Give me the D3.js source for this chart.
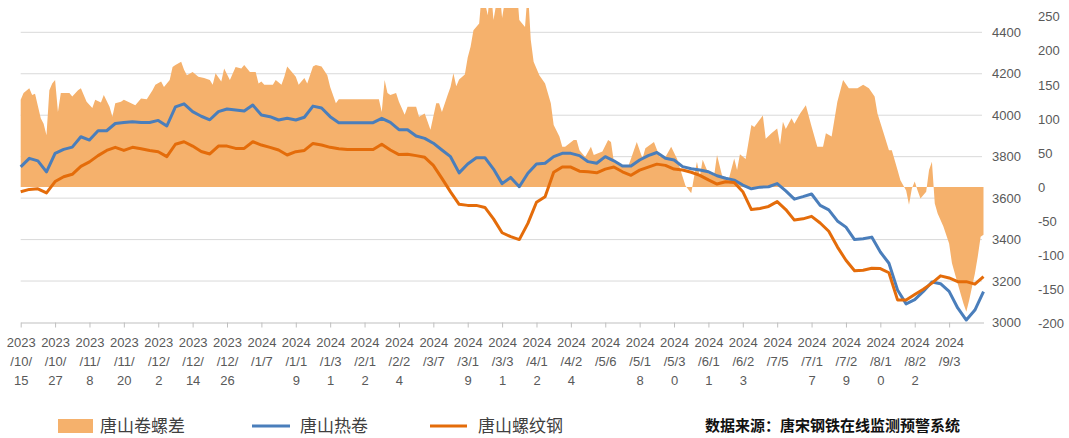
<!DOCTYPE html>
<html>
<head>
<meta charset="utf-8">
<script src="https://cdn.jsdelivr.net/npm/d3@7"></script>
<style>
  body { margin: 0; background: #fff; }
  svg { display: block; font-family: "Liberation Sans", Arial, sans-serif; }
</style>
</head>
<body>
<svg id="chart" width="1069" height="438"></svg>
<script>
// tick labels on the date axis (one every 12 days)
const tickLabels = [
  "2023/10/15", "2023/10/27", "2023/11/8", "2023/11/20", "2023/12/2", "2023/12/14", "2023/12/26",
  "2024/1/7", "2024/1/19", "2024/1/31", "2024/2/12", "2024/2/24", "2024/3/7", "2024/3/19",
  "2024/3/31", "2024/4/12", "2024/4/24", "2024/5/6", "2024/5/18", "2024/5/30", "2024/6/11",
  "2024/6/23", "2024/7/5", "2024/7/17", "2024/7/29", "2024/8/10", "2024/8/22", "2024/9/3"
];

// prices read every 3 days from 2023/10/15 to 2024/9/15
const hotCoil = [
  3751, 3792, 3780, 3727, 3816, 3835, 3846, 3896, 3880, 3925,
  3925, 3960, 3965, 3969, 3965, 3965, 3975, 3948, 4040, 4055,
  4017, 3995, 3978, 4017, 4030, 4025, 4020, 4049, 4001, 3993,
  3977, 3985, 3977, 3990, 4044, 4035, 3993, 3964, 3964, 3964,
  3964, 3964, 3985, 3965, 3930, 3930, 3900, 3888, 3865, 3832,
  3800, 3722, 3765, 3795, 3795, 3740, 3670, 3700, 3655, 3720,
  3765, 3768, 3800, 3816, 3816, 3805, 3776, 3768, 3800, 3780,
  3755, 3755, 3784, 3805, 3820, 3792, 3784, 3752, 3742, 3736,
  3727, 3708, 3696, 3687, 3663, 3645, 3653, 3655, 3670, 3635,
  3595, 3607, 3620, 3565, 3543, 3490, 3460, 3400, 3404, 3412,
  3340, 3286, 3157, 3090, 3110, 3150, 3195, 3187, 3150, 3070,
  3012, 3060, 3149
];

const rebar = [
  3631, 3642, 3645, 3625, 3680, 3703, 3715, 3753, 3775, 3805,
  3830, 3845, 3830, 3845, 3838, 3830, 3824, 3800, 3860, 3872,
  3851, 3825, 3813, 3851, 3851, 3840, 3840, 3872, 3856, 3845,
  3832, 3808, 3824, 3830, 3864, 3856, 3845, 3838, 3835, 3835,
  3835, 3835, 3860, 3832, 3810, 3812, 3805, 3797, 3758, 3695,
  3630, 3570, 3565, 3565, 3555, 3500, 3433, 3414, 3400, 3478,
  3580, 3607, 3725, 3750, 3750, 3730, 3727, 3722, 3740, 3750,
  3727, 3710, 3735, 3750, 3764, 3758, 3740, 3736, 3725, 3710,
  3688, 3668, 3679, 3675, 3631, 3545, 3550, 3560, 3583, 3545,
  3494, 3500, 3512, 3480, 3440, 3365, 3300, 3250, 3252, 3262,
  3260, 3240, 3109, 3109, 3135, 3160, 3190, 3225, 3215, 3197,
  3197, 3185, 3221
];

// spread: days after 2023/10/15 and the value on that day
const spreadDays = [
  0, 1, 3, 4, 5, 7, 8, 9, 10, 11,
  12, 13, 14, 17, 18, 20, 21, 23, 25, 26,
  28, 29, 31, 32, 33, 35, 36, 38, 40, 42,
  44, 46, 47, 49, 50, 52, 53, 54, 56, 57,
  58, 60, 62, 64, 66, 67, 68, 70, 71, 73,
  75, 77, 78, 80, 82, 83, 84, 85, 88, 89,
  91, 92, 93, 95, 96, 97, 99, 100, 102, 103,
  105, 107, 108, 110, 111, 125, 126, 127, 128, 129,
  131, 132, 134, 135, 138, 139, 141, 143, 145, 146,
  147, 149, 150, 151, 152, 153, 155, 156, 157, 158,
  160, 161, 163, 164, 165, 167, 168, 170, 172, 173,
  174, 176, 177, 178, 179, 181, 183, 185, 186, 188,
  189, 190, 193, 194, 195, 197, 199, 200, 203, 205,
  206, 207, 210, 212, 213, 215, 217, 218, 221, 223,
  225, 227, 229, 231, 232, 234, 235, 236, 237, 238,
  240, 242, 243, 245, 247, 249, 250, 251, 253, 255,
  256, 259, 260, 262, 264, 265, 266, 267, 269, 270,
  272, 274, 276, 278, 280, 281, 283, 285, 287, 289,
  291, 292, 294, 296, 298, 299, 301, 303, 304, 306,
  307, 309, 310, 311, 312, 313, 314, 316, 317, 318,
  319, 320, 322, 324, 325, 327, 329, 330, 331, 333,
  334, 335, 336
];

const spreadValues = [
  128, 138, 145, 135, 137, 101, 93, 76, 142, 152,
  157, 110, 138, 138, 133, 142, 145, 125, 116, 128,
  124, 135, 118, 103, 123, 125, 128, 124, 120, 130,
  129, 142, 150, 155, 147, 157, 176, 179, 184, 172,
  164, 169, 162, 160, 157, 150, 167, 155, 174, 157,
  176, 174, 179, 169, 169, 152, 155, 150, 150, 157,
  150, 162, 177, 167, 162, 150, 160, 152, 177, 179,
  177, 164, 147, 123, 129, 129, 110, 157, 138, 135,
  138, 125, 106, 118, 118, 103, 108, 84, 123, 123,
  110, 135, 147, 167, 148, 158, 165, 190, 206, 230,
  240, 290, 252, 295, 245, 295, 248, 300, 300, 300,
  245, 235, 290, 216, 184, 164, 152, 123, 91, 74,
  59, 59, 69, 69, 54, 44, 59, 47, 52, 69,
  66, 37, 30, 30, 42, 66, 42, 57, 66, 44,
  44, 59, 42, 15, 2, -9, 15, 37, 15, 40,
  20, 17, 47, 13, 10, 42, 25, 48, 41, 91,
  88, 105, 71, 79, 86, 62, 96, 85, 101, 93,
  108, 120, 89, 59, 59, 79, 74, 125, 157, 145,
  145, 145, 150, 145, 133, 108, 81, 54, 54, 25,
  10, -5, -26, -2, 8, -5, -17, -7, 25, 37,
  -24, -39, -58, -83, -112, -142, -171, -183, -166, -127,
  -102, -73, -70
];

const seriesNames = ["唐山卷螺差", "唐山热卷", "唐山螺纹钢"];
const sourceNote = "数据来源：唐宋钢铁在线监测预警系统";
const priceTicks = [3000, 3200, 3400, 3600, 3800, 4000, 4200, 4400];
const spreadTicks = [-200, -150, -100, -50, 0, 50, 100, 150, 200, 250];

const colors = { area: "#F5B16C", hot: "#4A7EBB", rebar: "#E46C0A" };

const startDate = new Date(2023, 9, 15);
const endDate = new Date(2024, 8, 15);
const dates = d3.timeDay.range(startDate, d3.timeDay.offset(endDate, 1), 3);
const spreadDates = spreadDays.map(d => d3.timeDay.offset(startDate, d));
const parseTick = d3.timeParse("%Y/%m/%d");

const plotRight = 982;

const x = d3.scaleTime()
  .domain([startDate, endDate])
  .range([20.7, 983.5]);

const yPrice = d3.scaleLinear()
  .domain([3000, 4400])
  .range([322.5, 32.3]);

const ySpread = d3.scaleLinear()
  .domain([-200, 250])
  .range([323.3, 16.7]);

const svg = d3.select('#chart');

svg.append('defs')
  .append('clipPath')
  .attr('id', 'plot-clip')
  .append('rect')
  .attr('x', 0)
  .attr('y', 8)
  .attr('width', 1069)
  .attr('height', 330);

// gridlines
svg.append('g')
  .selectAll('line')
  .data(priceTicks.slice(1))
  .enter()
  .append('line')
  .attr('x1', x.range()[0])
  .attr('x2', plotRight)
  .attr('y1', d => yPrice(d))
  .attr('y2', d => yPrice(d))
  .attr('stroke', '#D9D9D9')
  .attr('stroke-width', 1);

const plot = svg.append('g').attr('clip-path', 'url(#plot-clip)');

const area = d3.area()
  .x((d, i) => x(spreadDates[i]))
  .y0(ySpread(0))
  .y1(d => ySpread(d));

plot.append('path')
  .datum(spreadValues)
  .attr('d', area)
  .attr('fill', colors.area);

// x axis
const xAxis = d3.axisBottom(x)
  .tickValues(tickLabels.map(parseTick))
  .tickSize(5)
  .tickSizeOuter(0)
  .tickFormat((d, i) => tickLabels[i]);

const xg = svg.append('g')
  .attr('transform', 'translate(0,' + yPrice(3000) + ')')
  .call(xAxis);

xg.select('.domain').attr('stroke', '#BFBFBF');
xg.selectAll('.tick line').attr('stroke', '#BFBFBF');
xg.selectAll('.tick text').each(function() {
  const t = d3.select(this);
  const parts = t.text().match(/.{1,4}/g);
  t.text('')
    .attr('y', null)
    .attr('dy', null)
    .attr('fill', '#595959')
    .attr('font-size', 13)
    .attr('font-family', '"Liberation Sans", Arial, sans-serif');
  parts.forEach((p, j) => {
    t.append('tspan')
      .attr('x', 0)
      .attr('y', 24.5 + j * 19)
      .text(p);
  });
});

// lines
const line = values => d3.line()
  .x((d, i) => x(dates[i]))
  .y(d => yPrice(d))(values);

plot.append('path')
  .attr('d', line(hotCoil))
  .attr('fill', 'none')
  .attr('stroke', colors.hot)
  .attr('stroke-width', 3)
  .attr('stroke-linejoin', 'round');

plot.append('path')
  .attr('d', line(rebar))
  .attr('fill', 'none')
  .attr('stroke', colors.rebar)
  .attr('stroke-width', 3)
  .attr('stroke-linejoin', 'round');

// y axes, both on the right
const priceAxis = d3.axisRight(yPrice).tickValues(priceTicks)
  .tickSize(0).tickPadding(0).tickFormat(d => String(d));
const spreadAxis = d3.axisRight(ySpread).tickValues(spreadTicks)
  .tickSize(0).tickPadding(0).tickFormat(d => String(d));

[[priceAxis, 992], [spreadAxis, 1038]].forEach(([axis, left]) => {
  const g = svg.append('g')
    .attr('transform', 'translate(' + left + ',0)')
    .call(axis);
  g.select('.domain').remove();
  g.selectAll('text')
    .attr('fill', '#595959')
    .attr('font-size', 13)
    .attr('font-family', '"Liberation Sans", Arial, sans-serif');
});

// legend
const legend = svg.append('g')
  .attr('font-family', '"Noto Sans CJK SC", sans-serif')
  .attr('font-size', 17)
  .attr('fill', '#404040');

legend.append('rect')
  .attr('x', 58).attr('y', 419)
  .attr('width', 35).attr('height', 14)
  .attr('fill', colors.area);
legend.append('text').attr('x', 100).attr('y', 432).text(seriesNames[0]);

legend.append('line')
  .attr('x1', 252).attr('x2', 290).attr('y1', 426).attr('y2', 426)
  .attr('stroke', colors.hot).attr('stroke-width', 3);
legend.append('text').attr('x', 300).attr('y', 432).text(seriesNames[1]);

legend.append('line')
  .attr('x1', 430).attr('x2', 467).attr('y1', 426).attr('y2', 426)
  .attr('stroke', colors.rebar).attr('stroke-width', 3);
legend.append('text').attr('x', 478).attr('y', 432).text(seriesNames[2]);

svg.append('text')
  .attr('x', 705).attr('y', 431)
  .attr('font-family', '"Noto Sans CJK SC", sans-serif')
  .attr('font-size', 15)
  .attr('font-weight', 'bold')
  .attr('fill', '#111')
  .text(sourceNote);
</script>
</body>
</html>
